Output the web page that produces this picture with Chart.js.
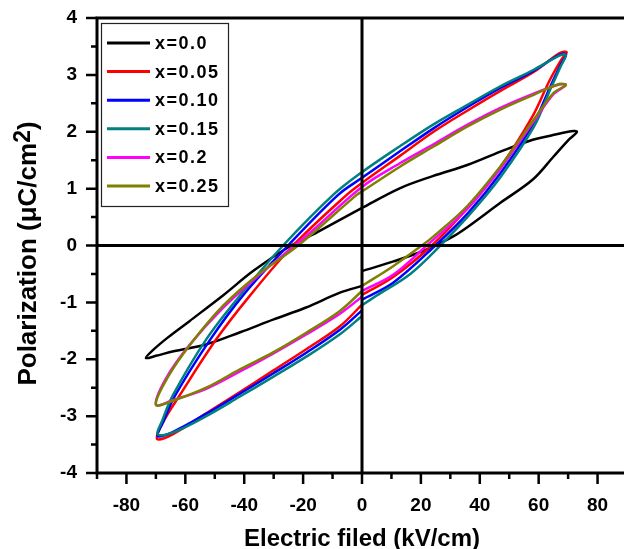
<!DOCTYPE html>
<html>
<head>
<meta charset="utf-8">
<script src="https://cdn.jsdelivr.net/npm/chart.js@4.4.1/dist/chart.umd.min.js"></script>
<style>
  html, body { margin: 0; padding: 0; background: #fff; overflow: hidden; }
  #wrap { width: 627px; height: 549px; }
</style>
</head>
<body>
<div id="wrap"><canvas id="pe" width="627" height="549"></canvas></div>
<script>
// composition labels and line colours
const sampleLabels = ["x=0.0", "x=0.05", "x=0.10", "x=0.15", "x=0.2", "x=0.25"];
const sampleColors = ["#000000", "#ff0000", "#0000ff", "#008080", "#ff00ff", "#808000"];

// each loop: from E=0 up the rising branch to +Emax, down the falling branch to -Emax, back to E=0
const fieldX000 = [0, 10.7, 22, 31, 36, 47, 58, 65, 70, 73, 70, 64, 58, 47, 36, 24, 13, 0, -15, -25, -37, -47, -58.6, -66, -71, -73.4, -70, -64, -53, -41.6, -30, -19, -7.5, 0];
const polX000 = [-0.45, -0.28, -0.07, 0.16, 0.33, 0.75, 1.16, 1.56, 1.85, 2.0, 2.0, 1.93, 1.86, 1.65, 1.42, 1.22, 1.01, 0.66, 0.24, -0.03, -0.45, -0.87, -1.33, -1.62, -1.84, -1.98, -1.94, -1.86, -1.74, -1.53, -1.3, -1.09, -0.83, -0.71];

const fieldX005 = [0, 10.7, 23.7, 35.7, 47, 58, 63.5, 67.5, 69.5, 67, 58.3, 47, 35.7, 24.3, 13, 0, -5.2, -23.4, -38.2, -49.5, -62, -67.5, -69.6, -64.3, -52.9, -41.6, -30.2, -18.8, -7.5, 0];
const polX005 = [-0.87, -0.55, 0, 0.65, 1.38, 2.28, 2.88, 3.25, 3.4, 3.38, 3.05, 2.72, 2.37, 2.0, 1.58, 1.1, 0.89, 0, -0.89, -1.65, -2.64, -3.1, -3.4, -3.32, -2.95, -2.58, -2.2, -1.82, -1.42, -1.04];

const fieldX010 = [0, 10.7, 24.9, 36, 47, 58.3, 64, 67.5, 69.3, 67, 58.3, 47, 35.7, 24.3, 13, 0, -8.1, -25.1, -40, -51.5, -63.5, -67.5, -69.4, -64.3, -52.9, -41.6, -30.2, -18.8, -7.5, 0];
const polX010 = [-0.95, -0.65, 0, 0.57, 1.27, 2.15, 2.8, 3.18, 3.36, 3.35, 3.07, 2.77, 2.43, 2.06, 1.66, 1.19, 0.89, 0, -0.85, -1.65, -2.64, -3.1, -3.35, -3.28, -2.96, -2.61, -2.25, -1.88, -1.48, -1.14];

const fieldX015 = [0, 5, 16.4, 26.6, 36.8, 47, 58.3, 64, 67.5, 69.2, 67, 58.3, 47, 35.7, 24.3, 13, 0, -9.8, -26.8, -41.6, -52.9, -64.3, -68, -69.4, -64.3, -52.9, -41.6, -30.2, -18.8, -7.5, 0];
const polX015 = [-1.05, -0.88, -0.5, 0, 0.56, 1.2, 2.08, 2.75, 3.15, 3.35, 3.34, 3.09, 2.8, 2.47, 2.13, 1.75, 1.29, 0.89, 0, -0.89, -1.65, -2.64, -3.1, -3.32, -3.29, -3.0, -2.66, -2.31, -1.95, -1.56, -1.24];

const fieldX020 = [0, 10.7, 22, 35.7, 47, 58.3, 65, 69.2, 67, 58.3, 47, 35.7, 24.3, 13, 0, -16, -22.8, -35, -47.3, -58.6, -66.5, -70, -64.3, -52.9, -41.6, -30.2, -18.8, -7.5, 0];
const polX020 = [-0.8, -0.51, 0, 0.64, 1.35, 2.18, 2.66, 2.82, 2.83, 2.67, 2.42, 2.12, 1.78, 1.45, 1.03, 0.3, 0, -0.52, -1.1, -1.75, -2.33, -2.8, -2.72, -2.52, -2.22, -1.9, -1.56, -1.2, -0.9];

const fieldX025 = [0, 10.7, 20.3, 24.3, 35.7, 47, 52.7, 58.3, 65, 69.2, 67, 58.3, 47, 35.7, 24.3, 13, 0, -1.8, -21.7, -35, -47, -58, -66, -70, -64.3, -52.9, -41.6, -30.2, -18.8, -7.5, 0];
const polX025 = [-0.71, -0.36, 0, 0.16, 0.69, 1.39, 1.8, 2.21, 2.68, 2.82, 2.84, 2.65, 2.39, 2.09, 1.74, 1.39, 0.95, 0.89, 0, -0.5, -1.05, -1.72, -2.32, -2.8, -2.73, -2.5, -2.18, -1.88, -1.53, -1.15, -0.8];

const fields = [fieldX000, fieldX005, fieldX010, fieldX015, fieldX020, fieldX025];
const pols = [polX000, polX005, polX010, polX015, polX020, polX025];

const FONT = '"Liberation Sans", Arial, sans-serif';

// zero lines, top frame, axis lines and major/minor ticks
const axisDeco = {
  id: "axisDeco",
  afterDatasetsDraw(chart) {
    const { ctx, chartArea: a, scales: { x, y } } = chart;
    const x0 = x.getPixelForValue(0), y0 = y.getPixelForValue(0);
    ctx.save();
    ctx.strokeStyle = "#000";
    ctx.lineWidth = 3;
    ctx.beginPath();
    ctx.moveTo(x0, a.top); ctx.lineTo(x0, a.bottom);
    ctx.moveTo(a.left, y0); ctx.lineTo(a.right, y0);
    ctx.moveTo(a.left - 1.5, a.top); ctx.lineTo(a.right, a.top);
    ctx.moveTo(a.left, a.top); ctx.lineTo(a.left, a.bottom + 1.5);
    ctx.moveTo(a.left - 1.5, a.bottom); ctx.lineTo(a.right, a.bottom);
    ctx.stroke();
    ctx.lineWidth = 2.5;
    ctx.beginPath();
    x.ticks.forEach(t => {
      const px = x.getPixelForValue(t.value);
      const len = t.value % 20 === 0 ? 11 : 6;
      ctx.moveTo(px, a.bottom); ctx.lineTo(px, a.bottom + len);
    });
    y.ticks.forEach(t => {
      const py = y.getPixelForValue(t.value);
      const len = Number.isInteger(t.value) ? 11 : 6;
      ctx.moveTo(a.left, py); ctx.lineTo(a.left - len, py);
    });
    ctx.stroke();
    ctx.restore();
  }
};

// boxed legend in the upper left corner of the plot
const boxLegend = {
  id: "boxLegend",
  afterDraw(chart) {
    const { ctx, chartArea: a } = chart;
    const bx = a.left + 4, by = a.top + 5, bw = 127, bh = 183, rowH = 28.6;
    ctx.save();
    ctx.fillStyle = "#fff";
    ctx.fillRect(bx, by, bw, bh);
    ctx.strokeStyle = "#222";
    ctx.lineWidth = 1.2;
    ctx.strokeRect(bx + 0.5, by + 0.5, bw, bh);
    ctx.font = "bold 18px " + FONT;
    ctx.textBaseline = "middle";
    if ("letterSpacing" in ctx) ctx.letterSpacing = "1.5px";
    chart.data.datasets.forEach((ds, i) => {
      const ry = by + 20 + i * rowH;
      ctx.strokeStyle = ds.borderColor;
      ctx.lineWidth = 3;
      ctx.beginPath(); ctx.moveTo(bx + 6, ry); ctx.lineTo(bx + 49, ry); ctx.stroke();
      ctx.fillStyle = "#000";
      ctx.fillText(ds.label, bx + 54, ry + 1);
    });
    ctx.restore();
  }
};

// vertical axis title with a raised 2
const yTitle = {
  id: "yTitle",
  afterDraw(chart) {
    const { ctx, chartArea: a } = chart;
    const big = "bold 26px " + FONT, small = "bold 23px " + FONT;
    const parts = [["Polarization (\u03bcC/cm", big, 0], ["2", small, -6], [")", big, 0]];
    ctx.save();
    ctx.fillStyle = "#000";
    let total = 0;
    parts.forEach(p => { ctx.font = p[1]; total += ctx.measureText(p[0]).width; });
    ctx.translate(36, (a.top + a.bottom) / 2 + 8);
    ctx.rotate(-Math.PI / 2);
    ctx.textBaseline = "alphabetic";
    let cx = -total / 2;
    parts.forEach(p => {
      ctx.font = p[1];
      ctx.fillText(p[0], cx, p[2]);
      cx += ctx.measureText(p[0]).width;
    });
    ctx.restore();
  }
};

// keep the plot box fixed: no extra room for overhanging tick labels
const noScalePadding = s => {
  s.paddingTop = 0;
  s.paddingBottom = 0;
  s.paddingLeft = 0;
  s.paddingRight = 0;
};

const datasets = sampleLabels.map((label, i) => ({
  label,
  data: fields[i].map((e, k) => ({ x: e, y: pols[i][k] })),
  borderColor: sampleColors[i],
  backgroundColor: sampleColors[i],
  borderWidth: 2.5,
  pointRadius: 0,
  showLine: true,
  fill: false,
  tension: 0.35,
  order: sampleLabels.length - i
}));

const tickFont = { family: FONT, size: 19, weight: "bold" };

new Chart(document.getElementById("pe"), {
  type: "scatter",
  data: { datasets },
  plugins: [axisDeco, boxLegend, yTitle],
  options: {
    responsive: false,
    animation: false,
    devicePixelRatio: 1,
    layout: { autoPadding: false, padding: { top: 18, right: 0, left: 0, bottom: 0 } },
    plugins: { legend: { display: false }, tooltip: { enabled: false } },
    scales: {
      x: {
        type: "linear",
        min: -90,
        max: 90,
        afterFit: s => { s.height = 76; noScalePadding(s); },
        grid: { display: false, drawTicks: false },
        border: { display: false },
        ticks: {
          stepSize: 10,
          autoSkip: false,
          maxRotation: 0,
          padding: 21,
          color: "#000",
          font: tickFont,
          callback: v => (v % 20 === 0 && Math.abs(v) <= 80 ? v : "")
        },
        title: {
          display: true,
          text: "Electric filed (kV/cm)",
          color: "#000",
          font: { family: FONT, size: 24, weight: "bold", lineHeight: 1 },
          padding: { top: 0, bottom: -2 }
        }
      },
      y: {
        type: "linear",
        min: -4,
        max: 4,
        afterFit: s => { s.width = 97; noScalePadding(s); },
        grid: { display: false, drawTicks: false },
        border: { display: false },
        ticks: {
          stepSize: 0.5,
          autoSkip: false,
          padding: 20,
          color: "#000",
          font: tickFont,
          callback: v => (Number.isInteger(v) ? v : "")
        }
      }
    }
  }
});
</script>
</body>
</html>
